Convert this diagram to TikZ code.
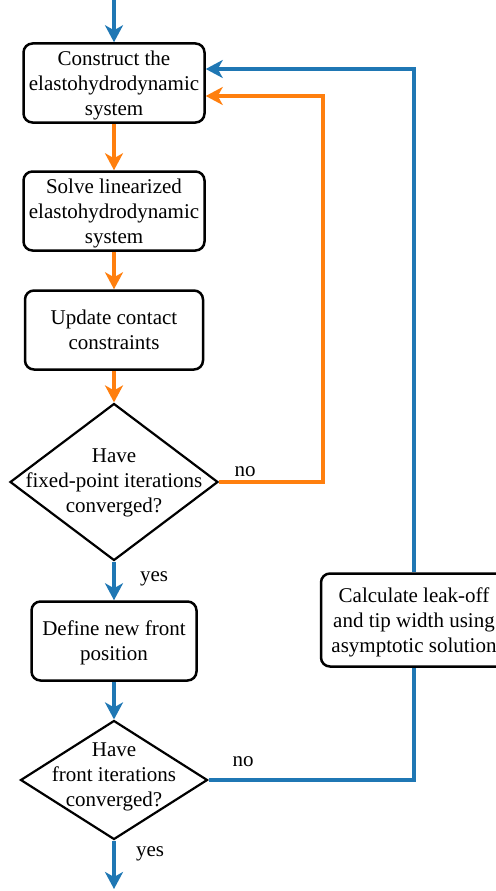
\documentclass[tikz,border=0pt]{standalone}
\usepackage{fontspec}
\setmainfont{Liberation Serif}
\usetikzlibrary{shapes.geometric, arrows.meta}
\definecolor{flowblue}{HTML}{1F77B4}
\definecolor{floworange}{HTML}{FF7F0E}

\begin{document}
\begin{tikzpicture}[
  x=1pt, y=-1pt,
  every node/.style={font=\fontsize{21}{25}\selectfont, align=center},
  box/.style={draw, line width=2.5pt, rounded corners=9pt, minimum width=181pt, minimum height=79pt, inner sep=2pt, text depth=0pt},
  decision/.style={draw, diamond, line width=2.2pt, inner sep=0pt},
  blueflow/.style={draw=flowblue, line width=3.5pt, -{Stealth[length=17pt, width=18pt, inset=5pt]}},
  orangeflow/.style={blueflow, draw=floworange}
]
\useasboundingbox (0,0) rectangle (495,891);

% Entry and exit points
\coordinate (entry) at (114,0);
\coordinate (exit) at (114,889);

% Inner loop
\node[box] (build) at (114,83) {Construct the\\elastohydrodynamic\\system};
\node[box] (solve) at (114,211) {Solve linearized\\elastohydrodynamic\\system};
\node[box, minimum width=178pt] (update) at (114,330) {Update contact\\constraints};
\node[decision, minimum width=208pt, minimum height=157pt,
  label={[yshift=-1pt]center:{Have\\fixed-point iterations\\converged?}}] (fixq) at (114,482) {};

% Outer loop
\node[box, minimum width=165pt] (front) at (114,641) {Define new front\\position};
\node[decision, minimum width=187pt, minimum height=119pt,
  label={[yshift=3pt]center:{Have\\front iterations\\converged?}}] (frontq) at (114,780) {};
\node[box, minimum width=186pt, minimum height=93pt] (leak) at (414,620) {Calculate leak-off\\and tip width using\\asymptotic solution};

% Branch labels
\node (fixno) at (245,472) {no};
\node (fixyes) at (154,579) {yes};
\node (frontno) at (243,762) {no};
\node (frontyes) at (150,854) {yes};

% Main flow
\draw[blueflow] (entry) -- (build);
\draw[orangeflow] (build) -- (solve);
\draw[orangeflow] (solve) -- (update);
\draw[orangeflow] (update) -- (fixq);
\draw[blueflow] (fixq) -- (front);
\draw[blueflow] (front) -- (frontq);
\draw[blueflow] (frontq) -- (exit);

% Fixed-point loop back
\draw[orangeflow] (fixq.east) -- ++(104,0) |- ([yshift=-13pt]build.east);

% Front loop back
\draw[blueflow, -] (frontq.east) -| (leak.south);
\draw[blueflow] (leak.north) |- ([yshift=14pt]build.east);

\end{tikzpicture}
\end{document}
